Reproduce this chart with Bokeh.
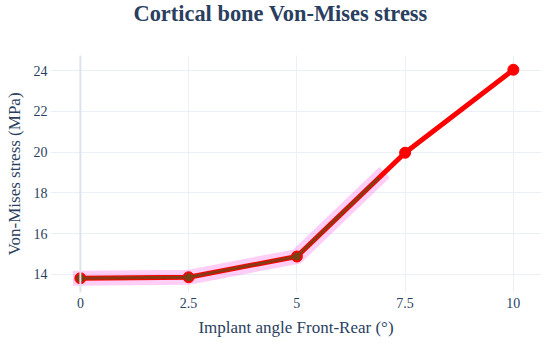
from bokeh.plotting import figure
from bokeh.models import Range1d, FixedTicker, Span, Title
from bokeh.embed import file_html
from bokeh.resources import INLINE

# Data
angles = [0, 2.5, 5, 7.5, 10]
stress = [13.8, 13.85, 14.87, 19.97, 24.05]
overlay_angles = [0, 2.5, 5, 6.9]
overlay_stress = [13.8, 13.85, 14.87, 18.75]
x_ticks = [0, 2.5, 5, 7.5, 10]
x_tick_labels = ["0", "2.5", "5", "7.5", "10"]
y_ticks = [14, 16, 18, 20, 22, 24]
y_tick_labels = ["14", "16", "18", "20", "22", "24"]

TEXT = "#2a3f5f"
FONT = "Liberation Serif"

p = figure(width=550, height=350, output_backend="svg", toolbar_location=None,
           title="Cortical bone Von-Mises stress",
           x_range=Range1d(-0.69, 10.65), y_range=Range1d(13.1, 24.75),
           min_border_left=50, min_border_right=9, min_border_top=55, min_border_bottom=58)
p.outline_line_color = None
p.background_fill_color = "white"

p.title.text_font = FONT
p.title.text_font_size = "22.4px"
p.title.text_font_style = "bold"
p.title.text_color = TEXT
p.title.align = "left"
p.title.offset = 83
p.title.vertical_align = "top"
p.title.standoff = 0

# spacer between title and plot area
p.add_layout(Title(text=" ", text_font_size="12px", standoff=12), "above")

for ax in (p.xaxis[0], p.yaxis[0]):
    ax.axis_line_color = None
    ax.major_tick_line_color = None
    ax.minor_tick_line_color = None
    ax.major_tick_out = 0
    ax.major_tick_in = 0
    ax.major_label_text_font = FONT
    ax.major_label_text_font_size = "14px"
    ax.major_label_text_color = TEXT
    ax.axis_label_text_font = FONT
    ax.axis_label_text_font_size = "17px"
    ax.axis_label_text_font_style = "normal"
    ax.axis_label_text_color = TEXT

p.xaxis.ticker = FixedTicker(ticks=x_ticks)
p.xaxis.major_label_overrides = dict(zip(x_ticks, x_tick_labels))
p.yaxis.ticker = FixedTicker(ticks=y_ticks)
p.yaxis.major_label_overrides = dict(zip(y_ticks, y_tick_labels))
p.xaxis.axis_label = "Implant angle Front-Rear (°)"
p.yaxis.axis_label = "Von-Mises stress (MPa)"
p.xaxis.major_label_standoff = 5
p.xaxis.axis_label_standoff = 7
p.yaxis.major_label_standoff = 3
p.yaxis.axis_label_standoff = 7

p.xgrid.ticker = FixedTicker(ticks=x_ticks)
p.ygrid.ticker = FixedTicker(ticks=y_ticks)
p.xgrid.grid_line_color = "#ebf0f8"
p.ygrid.grid_line_color = "#ebf0f8"
p.xgrid.grid_line_width = 1
p.ygrid.grid_line_width = 1

p.add_layout(Span(location=0, dimension="height", line_color="#dde3ec", line_width=2))

# pink glow
p.line(overlay_angles, overlay_stress, line_color="#ff33dd", line_alpha=0.24,
       line_width=15, line_cap="square", line_join="miter")
# main red line
p.line(angles, stress, line_color="#ff0000", line_width=5)
p.scatter(angles, stress, size=11, fill_color="#ff0000", line_color="#ff0000")
# dark overlay
p.line(overlay_angles, overlay_stress, line_color="#8a3a12", line_width=3)
p.scatter(overlay_angles[:3], overlay_stress[:3], size=8, fill_color="#7d4214", line_color=None)

open("out.html", "w").write(file_html(p, INLINE))
